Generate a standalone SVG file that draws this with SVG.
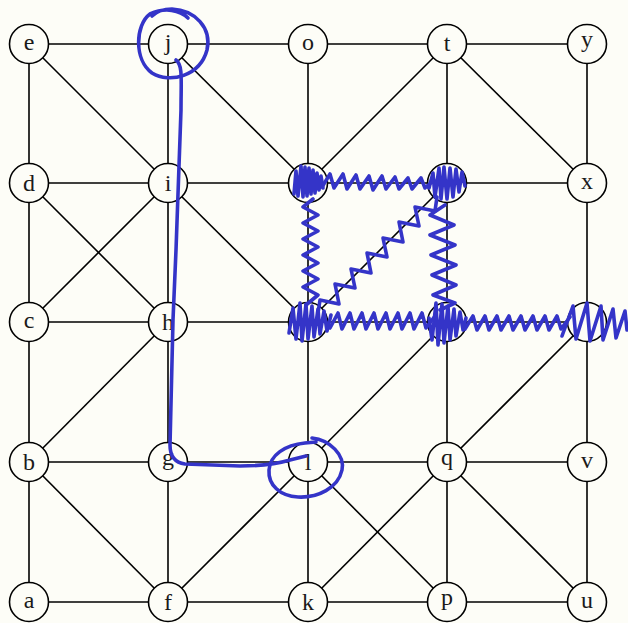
<svg xmlns="http://www.w3.org/2000/svg" width="628" height="623" viewBox="0 0 628 623">
<style>
.bg{fill:#fdfdf7}
#edges line{stroke:#000;stroke-width:1.6}
.nd circle{fill:#fdfdf7;stroke:#000;stroke-width:1.6}
.nd text{font-family:"Liberation Serif","DejaVu Serif",serif;font-size:24px;text-anchor:middle;fill:#1a1a1a}
.bl{fill:none;stroke:#3434c8;stroke-width:3.6;stroke-linecap:round;stroke-linejoin:round}
</style>
<rect class="bg" x="0" y="0" width="628" height="623"/>
<g id="edges">
<line x1="29" y1="44" x2="168" y2="44"/><line x1="168" y1="44" x2="308" y2="44"/><line x1="308" y1="44" x2="447" y2="44"/><line x1="447" y1="44" x2="587" y2="44"/>
<line x1="29" y1="183" x2="168" y2="183"/><line x1="168" y1="183" x2="308" y2="183"/><line x1="308" y1="183" x2="447" y2="183"/><line x1="447" y1="183" x2="587" y2="183"/>
<line x1="29" y1="322" x2="168" y2="322"/><line x1="168" y1="322" x2="308" y2="322"/><line x1="308" y1="322" x2="447" y2="322"/><line x1="447" y1="322" x2="587" y2="322"/>
<line x1="29" y1="462" x2="168" y2="462"/><line x1="168" y1="462" x2="308" y2="462"/><line x1="308" y1="462" x2="447" y2="462"/><line x1="447" y1="462" x2="587" y2="462"/>
<line x1="29" y1="602" x2="168" y2="602"/><line x1="168" y1="602" x2="308" y2="602"/><line x1="308" y1="602" x2="447" y2="602"/><line x1="447" y1="602" x2="587" y2="602"/>
<line x1="29" y1="44" x2="29" y2="183"/><line x1="29" y1="183" x2="29" y2="322"/><line x1="29" y1="322" x2="29" y2="462"/><line x1="29" y1="462" x2="29" y2="602"/>
<line x1="168" y1="44" x2="168" y2="183"/><line x1="168" y1="183" x2="168" y2="322"/><line x1="168" y1="322" x2="168" y2="462"/><line x1="168" y1="462" x2="168" y2="602"/>
<line x1="308" y1="44" x2="308" y2="183"/><line x1="308" y1="183" x2="308" y2="322"/><line x1="308" y1="322" x2="308" y2="462"/><line x1="308" y1="462" x2="308" y2="602"/>
<line x1="447" y1="44" x2="447" y2="183"/><line x1="447" y1="183" x2="447" y2="322"/><line x1="447" y1="322" x2="447" y2="462"/><line x1="447" y1="462" x2="447" y2="602"/>
<line x1="587" y1="44" x2="587" y2="183"/><line x1="587" y1="183" x2="587" y2="322"/><line x1="587" y1="322" x2="587" y2="462"/><line x1="587" y1="462" x2="587" y2="602"/>
<line x1="29" y1="44" x2="168" y2="183"/>
<line x1="168" y1="44" x2="308" y2="183"/>
<line x1="29" y1="183" x2="168" y2="322"/>
<line x1="29" y1="322" x2="168" y2="183"/>
<line x1="168" y1="183" x2="308" y2="322"/>
<line x1="29" y1="462" x2="168" y2="322"/>
<line x1="29" y1="462" x2="168" y2="602"/>
<line x1="168" y1="602" x2="308" y2="462"/>
<line x1="447" y1="44" x2="308" y2="183"/>
<line x1="447" y1="44" x2="587" y2="183"/>
<line x1="447" y1="183" x2="308" y2="322"/>
<line x1="447" y1="322" x2="308" y2="462"/>
<line x1="587" y1="322" x2="447" y2="462"/>
<line x1="308" y1="462" x2="447" y2="602"/>
<line x1="447" y1="462" x2="308" y2="602"/>
<line x1="447" y1="462" x2="587" y2="602"/>
</g>
<g id="node-e" class="nd"><circle cx="29" cy="44" r="19.5"/><text x="29" y="49.5">e</text></g>
<g id="node-j" class="nd"><circle cx="168" cy="44" r="19.5"/><text x="168" y="49.5">j</text></g>
<g id="node-o" class="nd"><circle cx="308" cy="44" r="19.5"/><text x="308" y="49.5">o</text></g>
<g id="node-t" class="nd"><circle cx="447" cy="44" r="19.5"/><text x="447" y="51">t</text></g>
<g id="node-y" class="nd"><circle cx="587" cy="44" r="19.5"/><text x="587" y="47">y</text></g>
<g id="node-d" class="nd"><circle cx="29" cy="183" r="19.5"/><text x="29" y="191">d</text></g>
<g id="node-i" class="nd"><circle cx="168" cy="183" r="19.5"/><text x="168" y="191">i</text></g>
<g id="node-n" class="nd"><circle cx="308" cy="183" r="19.5"/></g>
<g id="node-s" class="nd"><circle cx="447" cy="183" r="19.5"/></g>
<g id="node-x" class="nd"><circle cx="587" cy="183" r="19.5"/><text x="587" y="188.5">x</text></g>
<g id="node-c" class="nd"><circle cx="29" cy="322" r="19.5"/><text x="29" y="327.5">c</text></g>
<g id="node-h" class="nd"><circle cx="168" cy="322" r="19.5"/><text x="168" y="330">h</text></g>
<g id="node-m" class="nd"><circle cx="308" cy="322" r="19.5"/></g>
<g id="node-r" class="nd"><circle cx="447" cy="322" r="19.5"/></g>
<g id="node-w" class="nd"><circle cx="587" cy="322" r="19.5"/></g>
<g id="node-b" class="nd"><circle cx="29" cy="462" r="19.5"/><text x="29" y="470">b</text></g>
<g id="node-g" class="nd"><circle cx="168" cy="462" r="19.5"/><text x="168" y="465">g</text></g>
<g id="node-l" class="nd"><circle cx="308" cy="462" r="19.5"/><text x="308" y="470">l</text></g>
<g id="node-q" class="nd"><circle cx="447" cy="462" r="19.5"/><text x="447" y="465">q</text></g>
<g id="node-v" class="nd"><circle cx="587" cy="462" r="19.5"/><text x="587" y="467.5">v</text></g>
<g id="node-a" class="nd"><circle cx="29" cy="602" r="19.5"/><text x="29" y="607.5">a</text></g>
<g id="node-f" class="nd"><circle cx="168" cy="602" r="19.5"/><text x="168" y="610">f</text></g>
<g id="node-k" class="nd"><circle cx="308" cy="602" r="19.5"/><text x="308" y="610">k</text></g>
<g id="node-p" class="nd"><circle cx="447" cy="602" r="19.5"/><text x="447" y="605">p</text></g>
<g id="node-u" class="nd"><circle cx="587" cy="602" r="19.5"/><text x="587" y="607.5">u</text></g>
<g id="annotations" class="bl">
<path d="M188,18 C180,10 165,7 150,14 C135,25 134,60 152,73 C170,84 200,76 207,50 C212,28 195,10 172,9 C163,9 156,12 152,16"/>
<path d="M176,60 C183,65 181,80 181,110 L176,250 L173,320 L170,445 Q170,462 185,464 L240,466 Q270,466 290,460 L306,456"/>
<path d="M312,438 C330,440 345,455 342,470 C338,488 318,498 298,497 C280,496 268,485 269,470 C270,455 285,445 305,443 L316,442"/>
<path d="M294,194 L296,171 L298,196 L301,166 L303,197 L305,167 L307,196 L309,168 L311,194 L313,170 L315,193 L317,173 L319,190 L321,176 L323,188"/>
<path d="M429,188 L433,173 L435,197 L439,168 L441,199 L444,167 L447,199 L450,168 L453,197 L456,169 L459,192 L462,172 L465,186"/>
<path d="M289,333 L293,308 L296,339 L300,303 L302,341 L306,304 L308,339 L312,306 L314,337 L318,309 L320,334 L324,311 L327,331 L331,315"/>
<path d="M429,318 L432,340 L436,303 L438,345 L442,304 L444,343 L448,306 L450,340 L454,309 L456,336 L460,312 L463,330 L466,318"/>
<path d="M562,336 L573,306 L576,339 L587,303 L590,341 L601,306 L603,340 L613,309 L616,338 L625,311 L627,330"/>
<path d="M322,187 L330,174 L334,188 L343,174 L347,189 L356,175 L360,189 L369,176 L373,190 L382,176 L386,189 L395,177 L399,189 L408,178 L412,189 L421,178 L425,188 L434,180"/>
<path d="M313,199 L303,207 L318,215 L303,223 L318,231 L303,239 L318,247 L303,255 L318,263 L303,271 L318,279 L303,287 L318,295 L306,305"/>
<path d="M445,205 L430,215 L454,225 L430,235 L455,245 L431,255 L456,265 L432,275 L456,285 L433,295 L455,303 L440,310"/>
<path d="M437,197 L435,211 L415,207 L419,226 L399,222 L403,242 L383,238 L387,257 L367,253 L371,273 L351,269 L355,288 L335,284 L339,304 L320,300 L318,313"/>
<path d="M330,328 L338,313 L342,329 L350,313 L354,329 L362,313 L366,329 L374,313 L378,329 L386,313 L390,329 L398,313 L402,329 L410,313 L414,329 L422,313 L426,328 L435,316"/>
<path d="M465,329 L473,316 L477,330 L485,316 L489,330 L497,316 L501,330 L509,316 L513,330 L521,316 L525,330 L533,316 L537,330 L545,316 L549,330 L557,316 L561,329 L570,317"/>
</g>
</svg>
